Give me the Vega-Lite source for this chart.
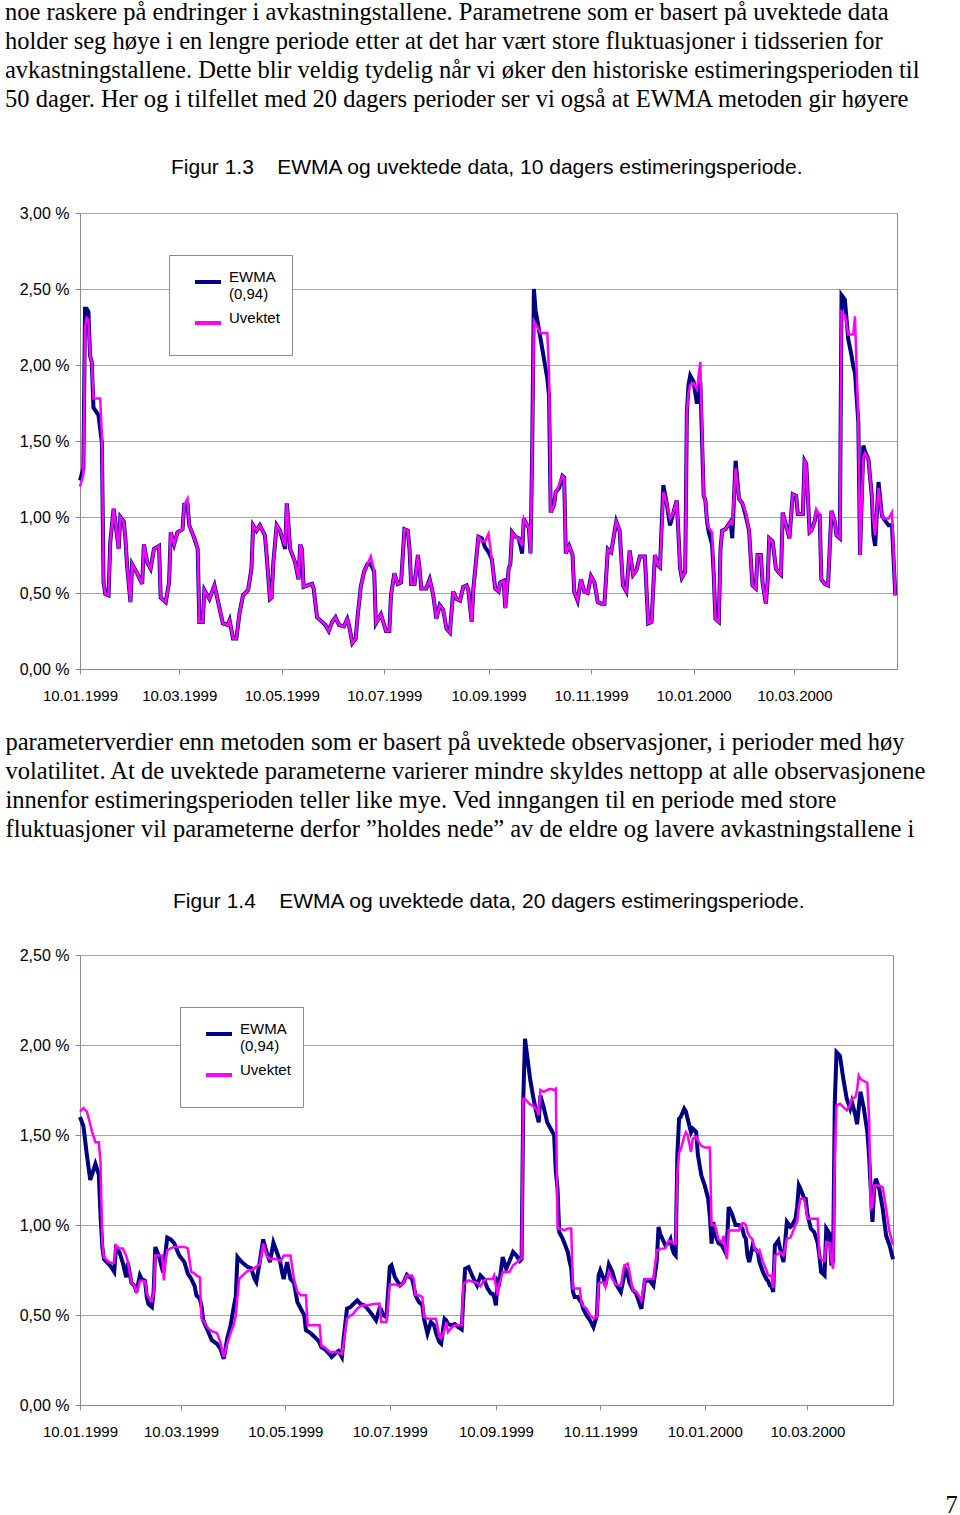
{
  "$schema": "https://vega.github.io/schema/vega-lite/v6.json",
  "background": "white",
  "padding": {"left": 4, "top": 0, "right": 0, "bottom": 0},
  "bounds": "flush",
  "spacing": 286,
  "resolve": {"scale": {"color": "independent"}, "legend": {"color": "independent"}},
  "title": {
    "text": [
      "noe raskere på endringer i avkastningstallene. Parametrene som er basert på uvektede data",
      "holder seg høye i en lengre periode etter at det har vært store fluktuasjoner i tidsserien for",
      "avkastningstallene. Dette blir veldig tydelig når vi øker den historiske estimeringsperioden til",
      "50 dager. Her og i tilfellet med 20 dagers perioder ser vi også at EWMA metoden gir høyere"
    ],
    "anchor": "start", "frame": "group", "dx": -75, "offset": 44,
    "font": "Liberation Serif", "fontSize": 24.5, "fontWeight": "normal", "lineHeight": 29, "color": "black"
  },
  "datasets": {
    "c1": [
      {"d":"1999-01-10","e":1.24,"u":1.20},{"d":"1999-01-12","e":1.32,"u":1.28},{"d":"1999-01-13","e":2.37,"u":2.25},{"d":"1999-01-14","e":2.37,"u":2.31},{"d":"1999-01-15","e":2.35,"u":2.30},{"d":"1999-01-16","e":2.06,"u":2.06},{"d":"1999-01-17","e":2.02,"u":2.02},{"d":"1999-01-18","e":1.72,"u":1.78},{"d":"1999-01-21","e":1.67,"u":1.78},{"d":"1999-01-22","e":1.58,"u":1.78},{"d":"1999-01-23","e":1.49,"u":1.54},{"d":"1999-01-24","e":0.57,"u":0.57},{"d":"1999-01-25","e":0.495,"u":0.495},{"d":"1999-01-27","e":0.485,"u":0.485},{"d":"1999-01-28","e":0.835,"u":0.835},{"d":"1999-01-30","e":1.055,"u":1.055},{"d":"1999-01-31","e":0.97,"u":0.97},
      {"d":"1999-02-02","e":0.79,"u":0.79},{"d":"1999-02-03","e":1.00,"u":1.00},{"d":"1999-02-05","e":0.97,"u":0.97},{"d":"1999-02-06","e":0.86,"u":0.86},{"d":"1999-02-07","e":0.68,"u":0.68},{"d":"1999-02-09","e":0.44,"u":0.44},{"d":"1999-02-10","e":0.69,"u":0.69},{"d":"1999-02-12","e":0.65,"u":0.65},{"d":"1999-02-16","e":0.56,"u":0.56},{"d":"1999-02-17","e":0.82,"u":0.82},{"d":"1999-02-19","e":0.70,"u":0.70},{"d":"1999-02-21","e":0.66,"u":0.66},{"d":"1999-02-23","e":0.79,"u":0.79},{"d":"1999-02-26","e":0.81,"u":0.81},{"d":"1999-02-27","e":0.47,"u":0.47},
      {"d":"1999-03-02","e":0.44,"u":0.44},{"d":"1999-03-04","e":0.57,"u":0.57},{"d":"1999-03-05","e":0.90,"u":0.90},{"d":"1999-03-07","e":0.82,"u":0.82},{"d":"1999-03-09","e":0.90,"u":0.90},{"d":"1999-03-12","e":0.92,"u":0.92},{"d":"1999-03-13","e":1.08,"u":1.08},{"d":"1999-03-15","e":1.08,"u":1.12},{"d":"1999-03-16","e":0.945,"u":0.945},{"d":"1999-03-19","e":0.86,"u":0.86},{"d":"1999-03-21","e":0.79,"u":0.79},{"d":"1999-03-22","e":0.31,"u":0.31},{"d":"1999-03-24","e":0.31,"u":0.31},{"d":"1999-03-25","e":0.52,"u":0.52},{"d":"1999-03-28","e":0.46,"u":0.46},{"d":"1999-03-31","e":0.55,"u":0.55},
      {"d":"1999-04-03","e":0.40,"u":0.40},{"d":"1999-04-05","e":0.30,"u":0.30},{"d":"1999-04-08","e":0.29,"u":0.29},{"d":"1999-04-09","e":0.32,"u":0.32},{"d":"1999-04-11","e":0.20,"u":0.20},{"d":"1999-04-13","e":0.20,"u":0.20},{"d":"1999-04-15","e":0.375,"u":0.375},{"d":"1999-04-17","e":0.485,"u":0.485},{"d":"1999-04-20","e":0.52,"u":0.52},{"d":"1999-04-22","e":0.66,"u":0.66},{"d":"1999-04-23","e":0.945,"u":0.945},{"d":"1999-04-25","e":0.91,"u":0.91},{"d":"1999-04-27","e":0.945,"u":0.945},{"d":"1999-04-30","e":0.88,"u":0.88},
      {"d":"1999-05-01","e":0.75,"u":0.75},{"d":"1999-05-03","e":0.46,"u":0.46},{"d":"1999-05-04","e":0.47,"u":0.47},{"d":"1999-05-05","e":0.70,"u":0.70},{"d":"1999-05-07","e":0.945,"u":0.945},{"d":"1999-05-09","e":0.91,"u":0.91},{"d":"1999-05-12","e":0.79,"u":0.81},{"d":"1999-05-13","e":1.09,"u":1.09},{"d":"1999-05-14","e":0.95,"u":0.95},{"d":"1999-05-15","e":0.79,"u":0.79},{"d":"1999-05-18","e":0.70,"u":0.70},{"d":"1999-05-20","e":0.59,"u":0.59},{"d":"1999-05-21","e":0.82,"u":0.82},{"d":"1999-05-22","e":0.79,"u":0.79},{"d":"1999-05-23","e":0.54,"u":0.54},{"d":"1999-05-28","e":0.56,"u":0.56},{"d":"1999-05-29","e":0.53,"u":0.53},{"d":"1999-05-31","e":0.34,"u":0.34},
      {"d":"1999-06-02","e":0.32,"u":0.32},{"d":"1999-06-05","e":0.29,"u":0.29},{"d":"1999-06-07","e":0.25,"u":0.25},{"d":"1999-06-09","e":0.31,"u":0.31},{"d":"1999-06-11","e":0.34,"u":0.34},{"d":"1999-06-13","e":0.29,"u":0.29},{"d":"1999-06-16","e":0.28,"u":0.28},{"d":"1999-06-18","e":0.33,"u":0.33},{"d":"1999-06-19","e":0.29,"u":0.29},{"d":"1999-06-21","e":0.17,"u":0.17},{"d":"1999-06-23","e":0.20,"u":0.20},{"d":"1999-06-24","e":0.33,"u":0.33},{"d":"1999-06-26","e":0.54,"u":0.54},{"d":"1999-06-28","e":0.64,"u":0.64},{"d":"1999-06-30","e":0.69,"u":0.69},
      {"d":"1999-07-02","e":0.69,"u":0.74},{"d":"1999-07-04","e":0.64,"u":0.64},{"d":"1999-07-05","e":0.30,"u":0.30},{"d":"1999-07-08","e":0.36,"u":0.36},{"d":"1999-07-11","e":0.25,"u":0.25},{"d":"1999-07-13","e":0.25,"u":0.25},{"d":"1999-07-14","e":0.485,"u":0.485},{"d":"1999-07-16","e":0.63,"u":0.63},{"d":"1999-07-18","e":0.56,"u":0.56},{"d":"1999-07-20","e":0.57,"u":0.57},{"d":"1999-07-22","e":0.92,"u":0.92},{"d":"1999-07-24","e":0.91,"u":0.91},{"d":"1999-07-25","e":0.79,"u":0.79},{"d":"1999-07-26","e":0.56,"u":0.56},{"d":"1999-07-28","e":0.56,"u":0.56},{"d":"1999-07-30","e":0.75,"u":0.75},{"d":"1999-07-31","e":0.66,"u":0.66},
      {"d":"1999-08-01","e":0.53,"u":0.53},{"d":"1999-08-04","e":0.53,"u":0.53},{"d":"1999-08-06","e":0.59,"u":0.59},{"d":"1999-08-08","e":0.495,"u":0.495},{"d":"1999-08-10","e":0.33,"u":0.33},{"d":"1999-08-12","e":0.42,"u":0.42},{"d":"1999-08-14","e":0.39,"u":0.39},{"d":"1999-08-16","e":0.265,"u":0.265},{"d":"1999-08-18","e":0.24,"u":0.24},{"d":"1999-08-20","e":0.51,"u":0.51},{"d":"1999-08-22","e":0.46,"u":0.46},{"d":"1999-08-24","e":0.45,"u":0.45},{"d":"1999-08-26","e":0.54,"u":0.54},{"d":"1999-08-28","e":0.55,"u":0.55},{"d":"1999-08-29","e":0.52,"u":0.52},{"d":"1999-08-31","e":0.31,"u":0.31},
      {"d":"1999-09-01","e":0.53,"u":0.53},{"d":"1999-09-04","e":0.87,"u":0.87},{"d":"1999-09-06","e":0.86,"u":0.84},{"d":"1999-09-08","e":0.80,"u":0.84},{"d":"1999-09-10","e":0.77,"u":0.89},{"d":"1999-09-12","e":0.72,"u":0.72},{"d":"1999-09-14","e":0.53,"u":0.53},{"d":"1999-09-16","e":0.51,"u":0.51},{"d":"1999-09-17","e":0.57,"u":0.57},{"d":"1999-09-19","e":0.58,"u":0.58},{"d":"1999-09-20","e":0.40,"u":0.40},{"d":"1999-09-22","e":0.66,"u":0.66},{"d":"1999-09-23","e":0.69,"u":0.69},{"d":"1999-09-24","e":0.90,"u":0.90},{"d":"1999-09-26","e":0.87,"u":0.87},{"d":"1999-09-28","e":0.86,"u":0.86},{"d":"1999-09-30","e":0.76,"u":0.81},
      {"d":"1999-10-01","e":0.99,"u":0.99},{"d":"1999-10-03","e":0.945,"u":0.945},{"d":"1999-10-04","e":0.93,"u":0.93},{"d":"1999-10-05","e":0.76,"u":0.76},{"d":"1999-10-06","e":1.45,"u":1.45},{"d":"1999-10-07","e":2.50,"u":2.29},{"d":"1999-10-08","e":2.36,"u":2.27},{"d":"1999-10-11","e":2.17,"u":2.21},{"d":"1999-10-13","e":2.04,"u":2.21},{"d":"1999-10-15","e":1.91,"u":2.21},{"d":"1999-10-16","e":1.80,"u":1.95},{"d":"1999-10-17","e":1.03,"u":1.03},{"d":"1999-10-19","e":1.08,"u":1.08},{"d":"1999-10-20","e":1.165,"u":1.165},{"d":"1999-10-22","e":1.19,"u":1.21},{"d":"1999-10-24","e":1.27,"u":1.27},{"d":"1999-10-25","e":1.26,"u":1.26},{"d":"1999-10-26","e":0.76,"u":0.76},{"d":"1999-10-28","e":0.81,"u":0.81},{"d":"1999-10-30","e":0.75,"u":0.75},{"d":"1999-10-31","e":0.51,"u":0.51},
      {"d":"1999-11-02","e":0.45,"u":0.45},{"d":"1999-11-04","e":0.59,"u":0.59},{"d":"1999-11-06","e":0.51,"u":0.51},{"d":"1999-11-08","e":0.50,"u":0.50},{"d":"1999-11-10","e":0.61,"u":0.61},{"d":"1999-11-12","e":0.57,"u":0.57},{"d":"1999-11-14","e":0.44,"u":0.44},{"d":"1999-11-16","e":0.43,"u":0.43},{"d":"1999-11-18","e":0.43,"u":0.43},{"d":"1999-11-20","e":0.79,"u":0.79},{"d":"1999-11-22","e":0.77,"u":0.77},{"d":"1999-11-25","e":0.97,"u":0.97},{"d":"1999-11-27","e":0.91,"u":0.91},{"d":"1999-11-29","e":0.55,"u":0.55},
      {"d":"1999-12-01","e":0.51,"u":0.51},{"d":"1999-12-03","e":0.78,"u":0.78},{"d":"1999-12-05","e":0.62,"u":0.62},{"d":"1999-12-07","e":0.65,"u":0.65},{"d":"1999-12-09","e":0.74,"u":0.74},{"d":"1999-12-12","e":0.74,"u":0.74},{"d":"1999-12-14","e":0.30,"u":0.30},{"d":"1999-12-16","e":0.31,"u":0.31},{"d":"1999-12-18","e":0.75,"u":0.75},{"d":"1999-12-20","e":0.68,"u":0.68},{"d":"1999-12-21","e":0.67,"u":0.67},{"d":"1999-12-23","e":1.21,"u":1.165},{"d":"1999-12-25","e":1.09,"u":1.09},{"d":"1999-12-27","e":0.945,"u":0.99},{"d":"1999-12-29","e":1.03,"u":1.03},{"d":"1999-12-31","e":1.11,"u":1.11},
      {"d":"2000-01-02","e":0.66,"u":0.66},{"d":"2000-01-03","e":0.60,"u":0.60},{"d":"2000-01-05","e":0.64,"u":0.64},{"d":"2000-01-06","e":1.69,"u":1.69},{"d":"2000-01-07","e":1.87,"u":1.82},{"d":"2000-01-08","e":1.93,"u":1.87},{"d":"2000-01-10","e":1.89,"u":1.88},{"d":"2000-01-12","e":1.745,"u":1.84},{"d":"2000-01-14","e":1.89,"u":2.02},{"d":"2000-01-16","e":1.14,"u":1.14},{"d":"2000-01-17","e":1.11,"u":1.11},{"d":"2000-01-18","e":0.97,"u":0.97},{"d":"2000-01-19","e":0.90,"u":0.93},{"d":"2000-01-21","e":0.82,"u":0.90},{"d":"2000-01-22","e":0.617,"u":0.617},{"d":"2000-01-23","e":0.33,"u":0.33},{"d":"2000-01-25","e":0.31,"u":0.31},{"d":"2000-01-26","e":0.79,"u":0.79},{"d":"2000-01-27","e":0.91,"u":0.91},{"d":"2000-01-29","e":0.92,"u":0.92},
      {"d":"2000-02-01","e":0.97,"u":0.97},{"d":"2000-02-02","e":0.86,"u":0.945},{"d":"2000-02-04","e":1.37,"u":1.32},{"d":"2000-02-06","e":1.12,"u":1.12},{"d":"2000-02-08","e":1.09,"u":1.09},{"d":"2000-02-10","e":1.01,"u":1.03},{"d":"2000-02-12","e":0.91,"u":0.91},{"d":"2000-02-14","e":0.55,"u":0.55},{"d":"2000-02-16","e":0.53,"u":0.53},{"d":"2000-02-17","e":0.75,"u":0.75},{"d":"2000-02-19","e":0.75,"u":0.75},{"d":"2000-02-20","e":0.57,"u":0.57},{"d":"2000-02-22","e":0.43,"u":0.43},{"d":"2000-02-23","e":0.57,"u":0.57},{"d":"2000-02-24","e":0.86,"u":0.86},{"d":"2000-02-26","e":0.84,"u":0.84},{"d":"2000-02-28","e":0.66,"u":0.66},
      {"d":"2000-03-01","e":0.63,"u":0.63},{"d":"2000-03-02","e":0.62,"u":0.62},{"d":"2000-03-03","e":1.03,"u":1.03},{"d":"2000-03-05","e":0.945,"u":0.945},{"d":"2000-03-07","e":0.86,"u":0.86},{"d":"2000-03-09","e":1.15,"u":1.15},{"d":"2000-03-11","e":1.14,"u":1.14},{"d":"2000-03-12","e":1.02,"u":1.02},{"d":"2000-03-15","e":1.02,"u":1.02},{"d":"2000-03-16","e":1.37,"u":1.37},{"d":"2000-03-17","e":1.35,"u":1.35},{"d":"2000-03-19","e":0.90,"u":0.90},{"d":"2000-03-20","e":0.91,"u":0.91},{"d":"2000-03-22","e":0.97,"u":0.97},{"d":"2000-03-23","e":1.03,"u":1.05},{"d":"2000-03-25","e":1.01,"u":1.01},{"d":"2000-03-26","e":0.59,"u":0.59},{"d":"2000-03-28","e":0.56,"u":0.56},{"d":"2000-03-30","e":0.55,"u":0.55},
      {"d":"2000-04-01","e":1.04,"u":1.04},{"d":"2000-04-03","e":0.97,"u":0.97},{"d":"2000-04-04","e":0.88,"u":0.88},{"d":"2000-04-06","e":0.86,"u":0.86},{"d":"2000-04-07","e":2.46,"u":2.35},{"d":"2000-04-09","e":2.43,"u":2.33},{"d":"2000-04-11","e":2.17,"u":2.20},{"d":"2000-04-13","e":2.06,"u":2.20},{"d":"2000-04-14","e":1.99,"u":2.20},{"d":"2000-04-15","e":1.95,"u":2.32},{"d":"2000-04-17","e":1.62,"u":1.62},{"d":"2000-04-18","e":0.75,"u":0.75},{"d":"2000-04-20","e":1.47,"u":1.40},{"d":"2000-04-21","e":1.43,"u":1.42},{"d":"2000-04-23","e":1.38,"u":1.38},{"d":"2000-04-25","e":1.14,"u":1.14},{"d":"2000-04-26","e":0.88,"u":0.97},{"d":"2000-04-27","e":0.81,"u":0.88},{"d":"2000-04-29","e":1.23,"u":1.19},
      {"d":"2000-05-01","e":1.01,"u":1.01},{"d":"2000-05-02","e":0.99,"u":0.99},{"d":"2000-05-05","e":0.945,"u":0.99},{"d":"2000-05-07","e":0.945,"u":1.03},{"d":"2000-05-09","e":0.485,"u":0.485}
    ],
    "c2": [
      {"d":"1999-01-10","e":1.60,"u":1.63},{"d":"1999-01-12","e":1.55,"u":1.65},{"d":"1999-01-14","e":1.39,"u":1.63},{"d":"1999-01-16","e":1.25,"u":1.56},{"d":"1999-01-17","e":1.28,"u":1.52},{"d":"1999-01-19","e":1.34,"u":1.46},{"d":"1999-01-21","e":1.28,"u":1.46},{"d":"1999-01-22","e":1.05,"u":1.35},{"d":"1999-01-23","e":0.88,"u":0.90},{"d":"1999-01-24","e":0.81,"u":0.82},{"d":"1999-01-27","e":0.78,"u":0.795},{"d":"1999-01-28","e":0.77,"u":0.79},{"d":"1999-01-30","e":0.74,"u":0.79},{"d":"1999-01-31","e":0.87,"u":0.887},
      {"d":"1999-02-02","e":0.85,"u":0.87},{"d":"1999-02-04","e":0.79,"u":0.87},{"d":"1999-02-06","e":0.71,"u":0.83},{"d":"1999-02-07","e":0.79,"u":0.794},{"d":"1999-02-09","e":0.68,"u":0.68},{"d":"1999-02-11","e":0.66,"u":0.66},{"d":"1999-02-12","e":0.628,"u":0.62},{"d":"1999-02-14","e":0.72,"u":0.69},{"d":"1999-02-15","e":0.70,"u":0.69},{"d":"1999-02-17","e":0.69,"u":0.688},{"d":"1999-02-18","e":0.60,"u":0.62},{"d":"1999-02-19","e":0.56,"u":0.60},{"d":"1999-02-21","e":0.544,"u":0.58},{"d":"1999-02-22","e":0.63,"u":0.62},{"d":"1999-02-23","e":0.878,"u":0.83},{"d":"1999-02-25","e":0.83,"u":0.83},{"d":"1999-02-27","e":0.757,"u":0.83},{"d":"1999-02-28","e":0.77,"u":0.692},
      {"d":"1999-03-01","e":0.85,"u":0.80},{"d":"1999-03-02","e":0.93,"u":0.86},{"d":"1999-03-04","e":0.92,"u":0.87},{"d":"1999-03-06","e":0.90,"u":0.878},{"d":"1999-03-09","e":0.83,"u":0.878},{"d":"1999-03-12","e":0.794,"u":0.878},{"d":"1999-03-14","e":0.73,"u":0.87},{"d":"1999-03-16","e":0.70,"u":0.739},{"d":"1999-03-18","e":0.66,"u":0.73},{"d":"1999-03-19","e":0.61,"u":0.72},{"d":"1999-03-21","e":0.59,"u":0.71},{"d":"1999-03-22","e":0.55,"u":0.48},{"d":"1999-03-23","e":0.47,"u":0.47},{"d":"1999-03-26","e":0.406,"u":0.424},{"d":"1999-03-28","e":0.36,"u":0.41},{"d":"1999-03-31","e":0.34,"u":0.40},
      {"d":"1999-04-02","e":0.313,"u":0.35},{"d":"1999-04-04","e":0.257,"u":0.265},{"d":"1999-04-06","e":0.369,"u":0.34},{"d":"1999-04-08","e":0.442,"u":0.40},{"d":"1999-04-10","e":0.554,"u":0.45},{"d":"1999-04-11","e":0.60,"u":0.50},{"d":"1999-04-12","e":0.822,"u":0.60},{"d":"1999-04-13","e":0.81,"u":0.70},{"d":"1999-04-15","e":0.79,"u":0.72},{"d":"1999-04-18","e":0.767,"u":0.745},{"d":"1999-04-20","e":0.76,"u":0.75},{"d":"1999-04-22","e":0.70,"u":0.76},{"d":"1999-04-23","e":0.683,"u":0.77},{"d":"1999-04-25","e":0.794,"u":0.78},{"d":"1999-04-27","e":0.92,"u":0.896},{"d":"1999-04-29","e":0.85,"u":0.83},
      {"d":"1999-05-01","e":0.794,"u":0.81},{"d":"1999-05-03","e":0.902,"u":0.813},{"d":"1999-05-05","e":0.85,"u":0.81},{"d":"1999-05-07","e":0.794,"u":0.80},{"d":"1999-05-08","e":0.74,"u":0.81},{"d":"1999-05-09","e":0.70,"u":0.83},{"d":"1999-05-11","e":0.794,"u":0.83},{"d":"1999-05-13","e":0.70,"u":0.83},{"d":"1999-05-15","e":0.68,"u":0.70},{"d":"1999-05-17","e":0.572,"u":0.628},{"d":"1999-05-19","e":0.535,"u":0.61},{"d":"1999-05-21","e":0.50,"u":0.61},{"d":"1999-05-22","e":0.415,"u":0.61},{"d":"1999-05-23","e":0.41,"u":0.443},{"d":"1999-05-25","e":0.397,"u":0.443},{"d":"1999-05-29","e":0.36,"u":0.443},{"d":"1999-05-30","e":0.345,"u":0.443},{"d":"1999-05-31","e":0.322,"u":0.33},
      {"d":"1999-06-02","e":0.31,"u":0.32},{"d":"1999-06-05","e":0.28,"u":0.295},{"d":"1999-06-06","e":0.267,"u":0.295},{"d":"1999-06-08","e":0.285,"u":0.295},{"d":"1999-06-10","e":0.30,"u":0.29},{"d":"1999-06-12","e":0.267,"u":0.285},{"d":"1999-06-13","e":0.369,"u":0.34},{"d":"1999-06-15","e":0.535,"u":0.48},{"d":"1999-06-17","e":0.544,"u":0.498},{"d":"1999-06-18","e":0.554,"u":0.50},{"d":"1999-06-21","e":0.581,"u":0.535},{"d":"1999-06-23","e":0.56,"u":0.55},{"d":"1999-06-25","e":0.554,"u":0.555},{"d":"1999-06-27","e":0.535,"u":0.554},{"d":"1999-06-30","e":0.498,"u":0.56},
      {"d":"1999-07-02","e":0.47,"u":0.563},{"d":"1999-07-04","e":0.535,"u":0.563},{"d":"1999-07-05","e":0.53,"u":0.461},{"d":"1999-07-06","e":0.50,"u":0.461},{"d":"1999-07-08","e":0.488,"u":0.461},{"d":"1999-07-10","e":0.767,"u":0.67},{"d":"1999-07-11","e":0.776,"u":0.67},{"d":"1999-07-13","e":0.71,"u":0.67},{"d":"1999-07-16","e":0.664,"u":0.66},{"d":"1999-07-18","e":0.68,"u":0.68},{"d":"1999-07-20","e":0.724,"u":0.72},{"d":"1999-07-23","e":0.70,"u":0.72},{"d":"1999-07-24","e":0.66,"u":0.70},{"d":"1999-07-25","e":0.61,"u":0.61},{"d":"1999-07-27","e":0.572,"u":0.61},{"d":"1999-07-29","e":0.555,"u":0.60},{"d":"1999-07-30","e":0.479,"u":0.489},
      {"d":"1999-08-01","e":0.397,"u":0.48},{"d":"1999-08-03","e":0.461,"u":0.479},{"d":"1999-08-05","e":0.44,"u":0.479},{"d":"1999-08-06","e":0.40,"u":0.479},{"d":"1999-08-08","e":0.35,"u":0.378},{"d":"1999-08-09","e":0.341,"u":0.37},{"d":"1999-08-11","e":0.479,"u":0.42},{"d":"1999-08-12","e":0.47,"u":0.461},{"d":"1999-08-13","e":0.45,"u":0.406},{"d":"1999-08-15","e":0.443,"u":0.43},{"d":"1999-08-17","e":0.45,"u":0.443},{"d":"1999-08-19","e":0.433,"u":0.443},{"d":"1999-08-21","e":0.42,"u":0.443},{"d":"1999-08-22","e":0.60,"u":0.673},{"d":"1999-08-23","e":0.757,"u":0.68},{"d":"1999-08-25","e":0.766,"u":0.692},{"d":"1999-08-28","e":0.70,"u":0.683},{"d":"1999-08-30","e":0.664,"u":0.68},
      {"d":"1999-09-01","e":0.72,"u":0.66},{"d":"1999-09-03","e":0.70,"u":0.692},{"d":"1999-09-05","e":0.65,"u":0.70},{"d":"1999-09-07","e":0.62,"u":0.70},{"d":"1999-09-08","e":0.618,"u":0.70},{"d":"1999-09-09","e":0.60,"u":0.72},{"d":"1999-09-10","e":0.554,"u":0.66},{"d":"1999-09-11","e":0.692,"u":0.61},{"d":"1999-09-12","e":0.68,"u":0.67},{"d":"1999-09-14","e":0.822,"u":0.739},{"d":"1999-09-16","e":0.757,"u":0.739},{"d":"1999-09-18","e":0.80,"u":0.74},{"d":"1999-09-20","e":0.85,"u":0.776},{"d":"1999-09-22","e":0.83,"u":0.79},{"d":"1999-09-24","e":0.80,"u":0.81},{"d":"1999-09-25","e":0.81,"u":0.813},{"d":"1999-09-26","e":1.70,"u":1.70},{"d":"1999-09-27","e":2.035,"u":1.70},{"d":"1999-09-28","e":1.96,"u":1.69},{"d":"1999-09-30","e":1.81,"u":1.67},
      {"d":"1999-10-02","e":1.70,"u":1.66},{"d":"1999-10-04","e":1.61,"u":1.64},{"d":"1999-10-05","e":1.57,"u":1.61},{"d":"1999-10-06","e":1.72,"u":1.75},{"d":"1999-10-08","e":1.65,"u":1.74},{"d":"1999-10-10","e":1.57,"u":1.75},{"d":"1999-10-12","e":1.535,"u":1.757},{"d":"1999-10-14","e":1.50,"u":1.75},{"d":"1999-10-15","e":1.30,"u":1.757},{"d":"1999-10-16","e":1.20,"u":0.98},{"d":"1999-10-17","e":0.96,"u":0.98},{"d":"1999-10-19","e":0.924,"u":0.975},{"d":"1999-10-20","e":0.90,"u":0.97},{"d":"1999-10-22","e":0.85,"u":0.98},{"d":"1999-10-23","e":0.80,"u":0.98},{"d":"1999-10-24","e":0.76,"u":0.98},{"d":"1999-10-25","e":0.628,"u":0.647},{"d":"1999-10-26","e":0.60,"u":0.647},{"d":"1999-10-28","e":0.60,"u":0.647},{"d":"1999-10-29","e":0.58,"u":0.647},{"d":"1999-10-30","e":0.57,"u":0.57},{"d":"1999-10-31","e":0.535,"u":0.55},
      {"d":"1999-11-02","e":0.498,"u":0.535},{"d":"1999-11-04","e":0.47,"u":0.498},{"d":"1999-11-06","e":0.433,"u":0.48},{"d":"1999-11-08","e":0.498,"u":0.49},{"d":"1999-11-09","e":0.72,"u":0.674},{"d":"1999-11-10","e":0.748,"u":0.68},{"d":"1999-11-12","e":0.70,"u":0.68},{"d":"1999-11-13","e":0.664,"u":0.655},{"d":"1999-11-15","e":0.78,"u":0.74},{"d":"1999-11-17","e":0.74,"u":0.70},{"d":"1999-11-19","e":0.674,"u":0.67},{"d":"1999-11-22","e":0.628,"u":0.664},{"d":"1999-11-24","e":0.72,"u":0.776},{"d":"1999-11-25","e":0.748,"u":0.78},{"d":"1999-11-26","e":0.73,"u":0.785},{"d":"1999-11-27","e":0.68,"u":0.74},{"d":"1999-11-29","e":0.64,"u":0.637},
      {"d":"1999-12-01","e":0.618,"u":0.63},{"d":"1999-12-03","e":0.56,"u":0.60},{"d":"1999-12-04","e":0.535,"u":0.58},{"d":"1999-12-06","e":0.692,"u":0.70},{"d":"1999-12-09","e":0.69,"u":0.70},{"d":"1999-12-11","e":0.664,"u":0.70},{"d":"1999-12-13","e":0.80,"u":0.859},{"d":"1999-12-14","e":0.989,"u":0.86},{"d":"1999-12-15","e":0.95,"u":0.868},{"d":"1999-12-18","e":0.887,"u":0.87},{"d":"1999-12-20","e":0.90,"u":0.914},{"d":"1999-12-21","e":0.92,"u":0.91},{"d":"1999-12-22","e":0.87,"u":0.905},{"d":"1999-12-23","e":0.841,"u":0.896},{"d":"1999-12-24","e":0.83,"u":0.896},{"d":"1999-12-25","e":1.387,"u":1.29},{"d":"1999-12-26","e":1.59,"u":1.40},{"d":"1999-12-27","e":1.60,"u":1.42},{"d":"1999-12-29","e":1.646,"u":1.49},{"d":"1999-12-30","e":1.63,"u":1.515},{"d":"1999-12-31","e":1.59,"u":1.50},
      {"d":"2000-01-02","e":1.515,"u":1.405},{"d":"2000-01-03","e":1.535,"u":1.48},{"d":"2000-01-05","e":1.517,"u":1.49},{"d":"2000-01-06","e":1.39,"u":1.47},{"d":"2000-01-08","e":1.276,"u":1.44},{"d":"2000-01-10","e":1.22,"u":1.43},{"d":"2000-01-12","e":1.146,"u":1.43},{"d":"2000-01-13","e":1.05,"u":1.43},{"d":"2000-01-14","e":0.896,"u":1.0},{"d":"2000-01-15","e":1.017,"u":1.0},{"d":"2000-01-16","e":0.95,"u":1.0},{"d":"2000-01-18","e":0.90,"u":0.92},{"d":"2000-01-20","e":0.887,"u":0.905},{"d":"2000-01-21","e":0.87,"u":0.94},{"d":"2000-01-22","e":0.85,"u":0.88},{"d":"2000-01-23","e":0.90,"u":0.81},{"d":"2000-01-24","e":1.10,"u":0.97},{"d":"2000-01-26","e":1.06,"u":0.97},{"d":"2000-01-28","e":1.00,"u":0.97},{"d":"2000-01-30","e":1.00,"u":0.97},
      {"d":"2000-02-01","e":0.98,"u":1.01},{"d":"2000-02-02","e":0.94,"u":1.01},{"d":"2000-02-03","e":0.924,"u":1.0},{"d":"2000-02-04","e":0.83,"u":0.96},{"d":"2000-02-05","e":0.794,"u":0.94},{"d":"2000-02-07","e":0.887,"u":0.92},{"d":"2000-02-08","e":0.87,"u":0.87},{"d":"2000-02-10","e":0.85,"u":0.85},{"d":"2000-02-11","e":0.794,"u":0.86},{"d":"2000-02-13","e":0.739,"u":0.794},{"d":"2000-02-15","e":0.70,"u":0.75},{"d":"2000-02-16","e":0.69,"u":0.72},{"d":"2000-02-17","e":0.664,"u":0.72},{"d":"2000-02-18","e":0.66,"u":0.72},{"d":"2000-02-19","e":0.628,"u":0.65},{"d":"2000-02-20","e":0.887,"u":0.83},{"d":"2000-02-22","e":0.914,"u":0.84},{"d":"2000-02-23","e":0.87,"u":0.85},{"d":"2000-02-25","e":0.794,"u":0.83},{"d":"2000-02-27","e":1.017,"u":0.924},{"d":"2000-02-29","e":0.99,"u":0.93},
      {"d":"2000-03-01","e":0.998,"u":0.95},{"d":"2000-03-03","e":1.035,"u":1.00},{"d":"2000-03-04","e":1.10,"u":1.017},{"d":"2000-03-05","e":1.22,"u":1.10},{"d":"2000-03-06","e":1.20,"u":1.146},{"d":"2000-03-08","e":1.15,"u":1.146},{"d":"2000-03-09","e":1.146,"u":1.10},{"d":"2000-03-10","e":1.06,"u":1.035},{"d":"2000-03-12","e":0.98,"u":1.035},{"d":"2000-03-14","e":0.96,"u":1.035},{"d":"2000-03-16","e":0.90,"u":1.035},{"d":"2000-03-17","e":0.83,"u":0.83},{"d":"2000-03-18","e":0.739,"u":0.81},{"d":"2000-03-20","e":0.72,"u":0.80},{"d":"2000-03-21","e":0.98,"u":0.905},{"d":"2000-03-23","e":0.95,"u":0.90},{"d":"2000-03-24","e":0.776,"u":0.80},{"d":"2000-03-25","e":0.80,"u":0.757},{"d":"2000-03-26","e":1.683,"u":1.387},{"d":"2000-03-27","e":1.96,"u":1.664},{"d":"2000-03-29","e":1.94,"u":1.673},{"d":"2000-03-31","e":1.81,"u":1.655},
      {"d":"2000-04-02","e":1.70,"u":1.637},{"d":"2000-04-04","e":1.646,"u":1.67},{"d":"2000-04-05","e":1.683,"u":1.70},{"d":"2000-04-07","e":1.61,"u":1.71},{"d":"2000-04-08","e":1.56,"u":1.75},{"d":"2000-04-09","e":1.65,"u":1.83},{"d":"2000-04-10","e":1.74,"u":1.81},{"d":"2000-04-12","e":1.646,"u":1.80},{"d":"2000-04-14","e":1.517,"u":1.79},{"d":"2000-04-15","e":1.387,"u":1.60},{"d":"2000-04-16","e":1.20,"u":1.09},{"d":"2000-04-17","e":1.017,"u":1.10},{"d":"2000-04-18","e":1.20,"u":1.22},{"d":"2000-04-19","e":1.257,"u":1.22},{"d":"2000-04-21","e":1.20,"u":1.22},{"d":"2000-04-23","e":1.09,"u":1.21},{"d":"2000-04-25","e":0.94,"u":1.09},{"d":"2000-04-27","e":0.887,"u":0.96},{"d":"2000-04-29","e":0.81,"u":0.89}
    ]
  },
  "vconcat": [
    {
      "width": 817, "height": 456,
      "title": {"text": "Figur 1.3\u00a0\u00a0\u00a0\u00a0EWMA og uvektede data, 10 dagers estimeringsperiode.", "anchor": "start", "frame": "group", "dx": 91, "offset": 27},
      "data": {"name": "c1"},
      "encoding": {
        "x": {"field": "d", "type": "temporal",
          "scale": {"type": "utc", "domain": [{"year": 1999, "month": 1, "date": 10, "utc": true}, {"year": 2000, "month": 5, "date": 10, "utc": true}]},
          "axis": {"format": "%d.%m.%Y", "grid": false, "tickSize": 5, "labelPadding": 14, "labelOverlap": false, "labelFlush": false,
            "title": [
              "parameterverdier enn metoden som er basert på uvektede observasjoner, i perioder med høy",
              "volatilitet. At de uvektede parameterne varierer mindre skyldes nettopp at alle observasjonene",
              "innenfor estimeringsperioden teller like mye. Ved inngangen til en periode med store",
              "fluktuasjoner vil parameterne derfor ”holdes nede” av de eldre og lavere avkastningstallene i"
            ],
            "titleFont": "Liberation Serif", "titleFontSize": 24.5, "titleFontWeight": "normal", "titleColor": "black", "titleLineHeight": 29,
            "titleX": -75, "titleY": 80, "titleAlign": "left", "titleBaseline": "alphabetic", "titleAnchor": "start",
            "values": [
              {"year": 1999, "month": 1, "date": 10, "utc": true}, {"year": 1999, "month": 3, "date": 10, "utc": true},
              {"year": 1999, "month": 5, "date": 10, "utc": true}, {"year": 1999, "month": 7, "date": 10, "utc": true},
              {"year": 1999, "month": 9, "date": 10, "utc": true}, {"year": 1999, "month": 11, "date": 10, "utc": true},
              {"year": 2000, "month": 1, "date": 10, "utc": true}, {"year": 2000, "month": 3, "date": 10, "utc": true}]}},
        "color": {"scale": {"domain": ["EWMA (0,94)", "Uvektet"], "range": ["#000080", "#ff00ff"]},
          "legend": {"title": null, "orient": "none", "legendX": 89, "legendY": 42,
            "labelExpr": "datum.label == 'EWMA (0,94)' ? ['EWMA', '(0,94)'] : [datum.label, '']"}}
      },
      "layer": [
        {"mark": {"type": "line", "strokeWidth": 4}, "encoding": {"y": {"field": "e", "type": "quantitative", "scale": {"domain": [0, 3], "nice": false},
          "axis": {"title": null, "values": [0, 0.5, 1, 1.5, 2, 2.5, 3], "labelExpr": "replace(format(datum.value, '.2f'), '.', ',') + ' %'", "tickSize": 5, "labelPadding": 6, "labelFontSize": 16}},
          "color": {"datum": "EWMA (0,94)"}}},
        {"mark": {"type": "line", "strokeWidth": 2.5}, "encoding": {"y": {"field": "u", "type": "quantitative", "scale": {"domain": [0, 3], "nice": false}}, "color": {"datum": "Uvektet"}}}
      ]
    },
    {
      "width": 813, "height": 450,
      "title": {"text": "Figur 1.4\u00a0\u00a0\u00a0\u00a0EWMA og uvektede data, 20 dagers estimeringsperiode.", "anchor": "start", "frame": "group", "dx": 93, "offset": 35},
      "data": {"name": "c2"},
      "encoding": {
        "x": {"field": "d", "type": "temporal",
          "scale": {"type": "utc", "domain": [{"year": 1999, "month": 1, "date": 10, "utc": true}, {"year": 2000, "month": 4, "date": 29, "utc": true}]},
          "axis": {"format": "%d.%m.%Y", "grid": false, "tickSize": 5, "labelPadding": 14, "labelOverlap": false, "labelFlush": false,
            "title": "7", "titleFont": "Liberation Serif", "titleFontSize": 24.5, "titleFontWeight": "normal", "titleColor": "black",
            "titleX": 871, "titleY": 107, "titleAlign": "center", "titleBaseline": "alphabetic", "titleAnchor": "start",
            "values": [
              {"year": 1999, "month": 1, "date": 10, "utc": true}, {"year": 1999, "month": 3, "date": 10, "utc": true},
              {"year": 1999, "month": 5, "date": 10, "utc": true}, {"year": 1999, "month": 7, "date": 10, "utc": true},
              {"year": 1999, "month": 9, "date": 10, "utc": true}, {"year": 1999, "month": 11, "date": 10, "utc": true},
              {"year": 2000, "month": 1, "date": 10, "utc": true}, {"year": 2000, "month": 3, "date": 10, "utc": true}]}},
        "color": {"scale": {"domain": ["EWMA (0,94)", "Uvektet"], "range": ["#000080", "#ff00ff"]},
          "legend": {"title": null, "orient": "none", "legendX": 100, "legendY": 52,
            "labelExpr": "datum.label == 'EWMA (0,94)' ? ['EWMA', '(0,94)'] : [datum.label, '']"}}
      },
      "layer": [
        {"mark": {"type": "line", "strokeWidth": 4}, "encoding": {"y": {"field": "e", "type": "quantitative", "scale": {"domain": [0, 2.5], "nice": false},
          "axis": {"title": null, "values": [0, 0.5, 1, 1.5, 2, 2.5], "labelExpr": "replace(format(datum.value, '.2f'), '.', ',') + ' %'", "tickSize": 5, "labelPadding": 6, "labelFontSize": 16}},
          "color": {"datum": "EWMA (0,94)"}}},
        {"mark": {"type": "line", "strokeWidth": 2.5}, "encoding": {"y": {"field": "u", "type": "quantitative", "scale": {"domain": [0, 2.5], "nice": false}}, "color": {"datum": "Uvektet"}}}
      ]
    }
  ],
  "config": {
    "font": "Liberation Sans",
    "view": {"stroke": "#8c8c8c", "strokeWidth": 1},
    "axis": {"labelFont": "Liberation Sans", "labelFontSize": 15, "labelColor": "black", "domainColor": "#8c8c8c", "tickColor": "#8c8c8c", "gridColor": "#a6a6a6", "gridWidth": 1},
    "title": {"font": "Liberation Sans", "fontSize": 21, "fontWeight": "normal", "color": "black"},
    "legend": {"symbolType": "stroke", "symbolSize": 676, "symbolStrokeWidth": 4, "symbolOffset": 12,
      "labelFont": "Liberation Sans", "labelFontSize": 15, "labelColor": "black", "labelBaseline": "alphabetic", "labelLimit": 0, "labelOffset": 6, "labelLineHeight": 18,
      "padding": 12, "rowPadding": 6, "strokeColor": "#8c8c8c", "fillColor": "white"}
  }
}
